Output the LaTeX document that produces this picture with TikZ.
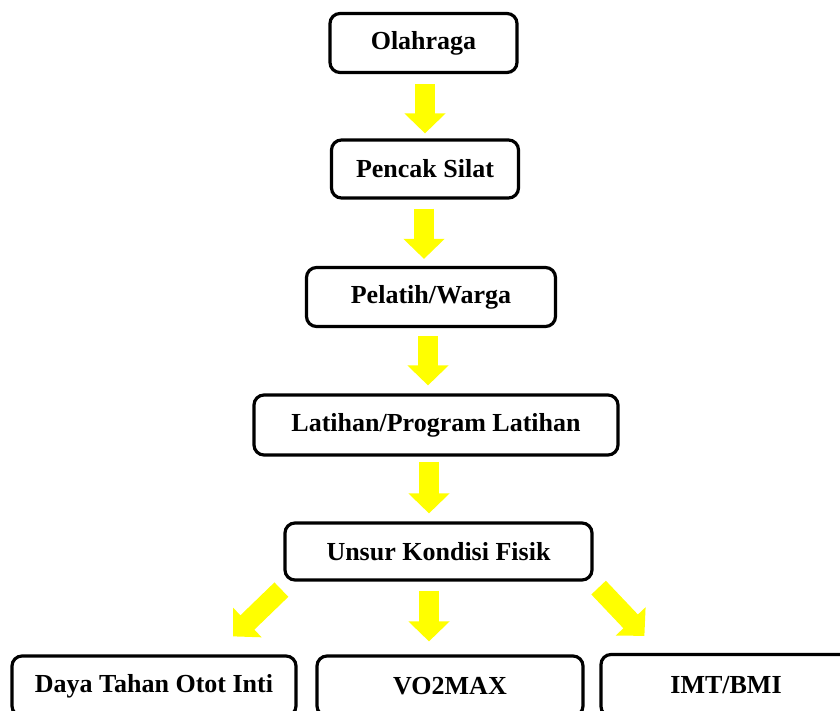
\documentclass[tikz,border=0pt]{standalone}
\usepackage{fontspec}
\setmainfont{Liberation Serif}
\usetikzlibrary{arrows.meta}
\definecolor{ayellow}{HTML}{FFFF00}
\tikzset{
  box/.style={draw=black, line width=1.6pt, rounded corners=5pt, fill=white,
    font=\fontsize{13}{15}\selectfont\bfseries, inner sep=0pt, align=center},
  yarrow/.style={draw=ayellow, line width=10pt, line cap=butt,
    -{Triangle[width=20pt,length=10pt]}}
}
\begin{document}
\begin{tikzpicture}[x=0.5pt,y=-0.5pt]
\clip (0,0) rectangle (840,711);
\fill[white] (0,0) rectangle (840,711);
\node[box, minimum width=93.5pt, minimum height=29.5pt] (b1) at (423.5,43) {Olahraga};
\node[box, minimum width=93.5pt, minimum height=29pt] (b2) at (425,169) {Pencak Silat};
\node[box, minimum width=124.5pt, minimum height=29.5pt] (b3) at (431,297) {Pelatih/Warga};
\node[box, minimum width=182pt, minimum height=30pt] (b4) at (436,425) {Latihan/Program Latihan};
\node[box, minimum width=153.5pt, minimum height=28.5pt] (b5) at (438.5,551.5) {Unsur Kondisi Fisik};
\node[box, minimum width=142pt, minimum height=30pt] (b6) at (154,686) {Daya Tahan Otot Inti};
\node[box, minimum width=133pt, minimum height=30pt] (b7) at (450,686) {VO2MAX};
\node[box, minimum width=125pt, minimum height=31pt] (b8) at (726,685.5) {IMT/BMI};
\draw[yarrow] ([xshift=0.75pt,yshift=-5pt]b1.south) -- ([yshift=2.5pt]b2.north);
\draw[yarrow] ([xshift=-0.5pt,yshift=-4.5pt]b2.south) -- ([xshift=-3.5pt,yshift=3.5pt]b3.north);
\draw[yarrow] ([xshift=-1.5pt,yshift=-4pt]b3.south) -- ([xshift=-4pt,yshift=4pt]b4.north);
\draw[yarrow] ([xshift=-3.5pt,yshift=-2.5pt]b4.south) -- ([xshift=-4.75pt,yshift=4pt]b5.north);
\draw[yarrow] ([xshift=-4.75pt,yshift=-4.5pt]b5.south) -- ([xshift=-10.5pt,yshift=6.5pt]b7.north);
\draw[yarrow] ([xshift=-1pt,yshift=-4pt]b5.south west) -- ([xshift=39.5pt,yshift=9pt]b6.north);
\draw[yarrow] ([xshift=2.5pt,yshift=-3pt]b5.south east) -- ([xshift=22.5pt,yshift=8.5pt]b8.north west);
\end{tikzpicture}
\end{document}
